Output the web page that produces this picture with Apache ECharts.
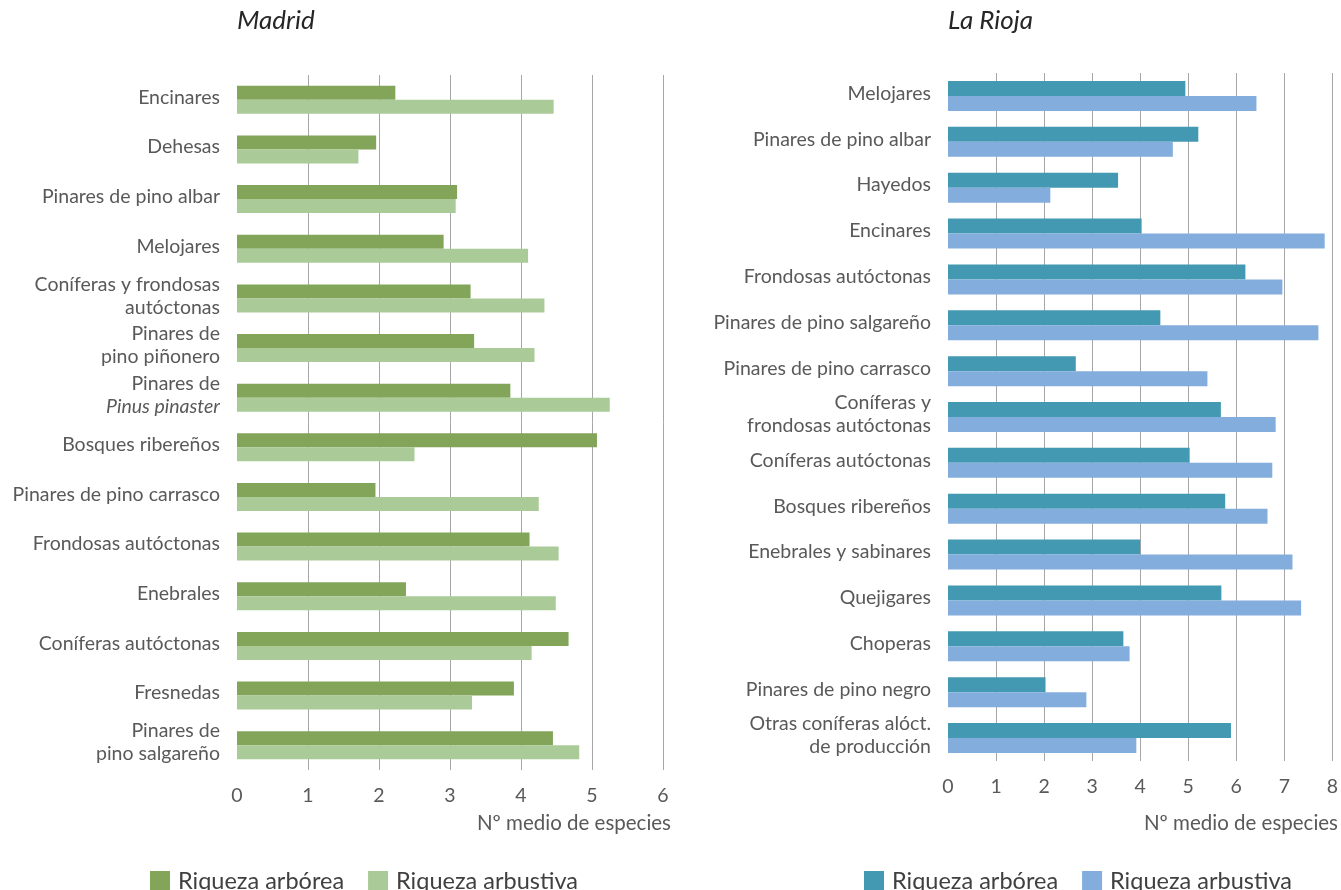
<!DOCTYPE html>
<html>
<head>
<meta charset="utf-8">
<script src="https://cdn.jsdelivr.net/npm/echarts@6/dist/echarts.min.js"></script>
<style>
  html, body { margin: 0; padding: 0; background: #fff; }
  #chart { width: 1341px; height: 890px; }
</style>
</head>
<body>
<div id="chart"></div>
<script>
// Madrid
var madridCats = [
  "Encinares", "Dehesas", "Pinares de pino albar", "Melojares",
  "Coníferas y frondosas\nautóctonas", "Pinares de\npino piñonero",
  "Pinares de\nPinus pinaster", "Bosques ribereños", "Pinares de pino carrasco",
  "Frondosas autóctonas", "Enebrales", "Coníferas autóctonas", "Fresnedas",
  "Pinares de\npino salgareño"
];
var madridArborea = [2.23, 1.96, 3.10, 2.91, 3.29, 3.34, 3.85, 5.07, 1.95, 4.12, 2.38, 4.67, 3.90, 4.45];
var madridArbustiva = [4.46, 1.71, 3.08, 4.10, 4.33, 4.19, 5.25, 2.50, 4.25, 4.53, 4.49, 4.15, 3.31, 4.82];
var madridTicks = [0, 6];

// La Rioja
var riojaCats = [
  "Melojares", "Pinares de pino albar", "Hayedos", "Encinares",
  "Frondosas autóctonas", "Pinares de pino salgareño", "Pinares de pino carrasco",
  "Coníferas y\nfrondosas autóctonas", "Coníferas autóctonas", "Bosques ribereños",
  "Enebrales y sabinares", "Quejigares", "Choperas", "Pinares de pino negro",
  "Otras coníferas alóct.\nde producción"
];
var riojaArborea = [4.94, 5.21, 3.54, 4.03, 6.19, 4.42, 2.66, 5.68, 5.03, 5.77, 4.00, 5.69, 3.65, 2.03, 5.89];
var riojaArbustiva = [6.42, 4.68, 2.13, 7.84, 6.96, 7.71, 5.40, 6.82, 6.75, 6.65, 7.17, 7.35, 3.78, 2.88, 3.92];
var riojaTicks = [0, 8];

var seriesNames = ["Riqueza arbórea", "Riqueza arbustiva"];
var axisName = "Nº medio de especies";

var font = "Lato";
var textColor = "#595959";

var chart = echarts.init(document.getElementById("chart"));

function xAxisFor(gridIndex, ticks) {
  return {
    type: "value",
    gridIndex: gridIndex,
    min: ticks[0],
    max: ticks[1],
    interval: 1,
    axisLine: { show: false },
    axisTick: { show: false },
    axisLabel: { color: textColor, fontSize: 19.5, fontFamily: font, margin: 16 },
    splitLine: { show: true, showMinLine: false, lineStyle: { color: "#a6a6a6", width: 1 } }
  };
}

function yAxisFor(gridIndex, cats) {
  return {
    type: "category",
    gridIndex: gridIndex,
    data: cats,
    inverse: true,
    axisLine: { show: false },
    axisTick: { show: false },
    axisLabel: {
      color: textColor,
      fontSize: 19.5,
      fontFamily: font,
      lineHeight: 23,
      margin: 17,
      padding: [0, 0, 5, 0],
      formatter: function (v) {
        return v.replace("Pinus pinaster", "{it|Pinus pinaster}");
      },
      rich: {
        it: { fontStyle: "italic", color: textColor, fontSize: 19.5, fontFamily: font, lineHeight: 23 }
      }
    }
  };
}

function barSeries(label, idx, data, color, width) {
  return {
    type: "bar",
    name: label,
    xAxisIndex: idx,
    yAxisIndex: idx,
    data: data,
    barWidth: width,
    barGap: "0%",
    itemStyle: { color: color },
    animation: false
  };
}

var titleStyle = { fontSize: 26, fontStyle: "italic", fontWeight: "normal", color: "#262626", fontFamily: font };
var legendText = { fontSize: 23.5, color: "#404040", fontFamily: font, padding: [0, 0, 0, 3] };

chart.setOption({
  backgroundColor: "#fff",
  textStyle: { fontFamily: font },
  title: [
    { text: "Madrid", left: 237, top: 8, padding: 0, textStyle: titleStyle },
    { text: "La Rioja", left: 948, top: 8, padding: 0, textStyle: titleStyle }
  ],
  grid: [
    { left: 237, top: 75, width: 426, height: 695 },
    { left: 948, top: 73, width: 385, height: 688 }
  ],
  xAxis: [xAxisFor(0, madridTicks), xAxisFor(1, riojaTicks)],
  yAxis: [yAxisFor(0, madridCats), yAxisFor(1, riojaCats)],
  legend: [
    {
      left: 150, top: 869, padding: 0,
      itemWidth: 20, itemHeight: 20, itemGap: 24,
      icon: "rect",
      data: ["Madrid " + seriesNames[0], "Madrid " + seriesNames[1]],
      formatter: function (n) { return n.replace("Madrid ", ""); },
      textStyle: legendText
    },
    {
      left: 864, top: 869, padding: 0,
      itemWidth: 20, itemHeight: 20, itemGap: 24,
      icon: "rect",
      data: ["Rioja " + seriesNames[0], "Rioja " + seriesNames[1]],
      formatter: function (n) { return n.replace("Rioja ", ""); },
      textStyle: legendText
    }
  ],
  graphic: [
    { type: "text", right: 1341 - 671, top: 813, style: { text: axisName, fontSize: 20.5, fill: textColor, fontFamily: font } },
    { type: "text", right: 3, top: 813, style: { text: axisName, fontSize: 20.5, fill: textColor, fontFamily: font } }
  ],
  series: [
    barSeries("Madrid " + seriesNames[0], 0, madridArborea, "#82a55a", 14),
    barSeries("Madrid " + seriesNames[1], 0, madridArbustiva, "#aacb98", 14),
    barSeries("Rioja " + seriesNames[0], 1, riojaArborea, "#4399b1", 15),
    barSeries("Rioja " + seriesNames[1], 1, riojaArbustiva, "#83addc", 15)
  ]
});
</script>
</body>
</html>
